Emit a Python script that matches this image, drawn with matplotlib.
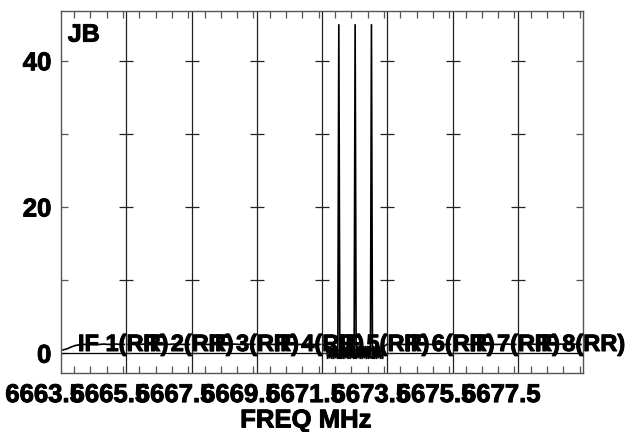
import numpy as np
import matplotlib
matplotlib.use("Agg")
import matplotlib.pyplot as plt
import matplotlib.patheffects as pe

plt.rcParams['font.family'] = ['Liberation Sans', 'DejaVu Sans']
plt.rcParams['font.weight'] = 'bold'

# ---- data ----
source = "JB"
if_names = ["IF 1(RR)", "IF 2(RR)", "IF 3(RR)", "IF 4(RR)",
            "IF 5(RR)", "IF 6(RR)", "IF 7(RR)", "IF 8(RR)"]
if_start_mhz = [6664.0, 6666.0, 6668.0, 6670.0, 6672.0, 6674.0, 6676.0, 6678.0]
if_bandwidth_mhz = 2.0
freq_labels = [6663.5, 6665.5, 6667.5, 6669.5, 6671.5, 6673.5, 6675.5, 6677.5]

if1 = [0.45, 0.6, 0.85, 1.05, 1.15, 1.2, 1.2, 1.25, 1.2, 1.2, 1.25, 1.2, 1.2, 1.25, 1.2, 1.2]
if2 = [1.2, 1.25, 1.2, 1.2, 1.25, 1.2, 1.2, 1.2, 1.25, 1.2, 1.2, 1.25, 1.2, 1.2, 1.2, 1.2]
if3 = [1.2, 1.2, 1.25, 1.2, 1.2, 1.2, 1.25, 1.2, 1.2, 1.2, 1.25, 1.2, 1.2, 1.2, 1.25, 1.2]
if4 = [1.2, 1.25, 1.2, 1.2, 1.2, 1.25, 1.2, 1.2, 1.25, 1.2, 1.2, 1.2, 1.25, 1.2, 1.2, 1.2]
if5 = [1.2, 1.1, 1.0, 0.9,
       1.0, -0.8, 1.0, -0.7, 1.0, -0.8, 0.9, -0.8,
       1.0, -0.7, 1.0, -0.8, 45.0, -0.8, 1.0, -0.8,
       1.0, -0.8, 0.9, -0.7, 1.0, -0.8, 1.0, -0.8,
       1.0, -0.7, 1.0, -0.8, 45.0, -0.8, 1.0, -0.7,
       1.0, -0.8, 0.9, -0.8, 1.0, -0.7, 1.0, -0.8,
       1.0, -0.8, 1.0, -0.7, 45.0, -0.8, 1.0, -0.8,
       0.9, -0.8, 1.0, -0.7, 1.0, -0.8, 1.0, -0.8,
       0.9, 1.0, 1.1, 1.2]
if6 = [1.2, 1.2, 1.25, 1.2, 1.2, 1.25, 1.2, 1.2, 1.2, 1.25, 1.2, 1.2, 1.25, 1.2, 1.2, 1.2]
if7 = [1.2, 1.25, 1.2, 1.2, 1.2, 1.2, 1.25, 1.2, 1.2, 1.25, 1.2, 1.2, 1.2, 1.25, 1.2, 1.2]
if8 = [1.2, 1.2, 1.2, 1.25, 1.2, 1.2, 1.25, 1.2, 1.2, 1.2, 1.25, 1.2, 1.2, 1.2, 1.25, 1.2]
spectra = [if1, if2, if3, if4, if5, if6, if7, if8]

y_ticks = [0, 10, 20, 30, 40]
y_ticklabels = ["0", "", "20", "", "40"]

# ---- figure ----
W, H = 637, 432
fig = plt.figure(figsize=(W / 100, H / 100), dpi=100)
ax = fig.add_axes([61 / W, (H - 373.3) / H, 522 / W, 362.3 / H])

bold = [pe.withStroke(linewidth=0.7, foreground="black")]

frame_col = "#555555"
for sp in ax.spines.values():
    sp.set_color(frame_col)
    sp.set_linewidth(1.0)

x0 = if_start_mhz[0]
x1 = if_start_mhz[-1] + if_bandwidth_mhz
ax.set_xlim(x0, x1)
ax.set_ylim(-2.75, 46.8)

# spectra
for start, vals in zip(if_start_mhz, spectra):
    n = len(vals)
    f = start + (np.arange(n) + 0.5) * if_bandwidth_mhz / n
    ax.plot(f, vals, color="black", lw=1.2, solid_joinstyle="miter")

# zero line
ax.axhline(0, color="black", lw=0.9)

# IF boundaries with crossing ticks
for b in if_start_mhz[1:]:
    ax.axvline(b, color="#222222", lw=0.9)
    ax.plot([b] * len(y_ticks), y_ticks, ls="none", marker="_", ms=9.6,
            mew=0.9, color="#222222")

# IF labels
for start, name in zip(if_start_mhz, if_names):
    ax.text(start + 0.52, 0.3, name, ha="left", va="baseline",
            fontsize=17, fontweight="bold", clip_on=False, path_effects=bold)

# source label
ax.text(0.013, 0.968, source, transform=ax.transAxes, ha="left", va="top",
        fontsize=18, fontweight="bold", path_effects=bold)

# ticks
ax.set_yticks(y_ticks, labels=y_ticklabels)
ax.set_xticks(np.arange(x0 + 0.4, x1, 0.5))
ax.set_xticklabels([])
ax.tick_params(axis="both", which="both", direction="in", length=4.8,
               width=0.9, color=frame_col, top=True, right=True,
               labelsize=18.5, pad=7)
for lab in ax.get_yticklabels():
    lab.set_fontweight("bold")
    lab.set_path_effects(bold)

# frequency labels (one per IF, overlapping as in original)
xt = ax.get_xaxis_transform()
for v in freq_labels:
    ax.text(v, -0.027, f"{v:.1f}", transform=xt, ha="center", va="top",
            fontsize=18.5, fontweight="bold", clip_on=False, path_effects=bold)

ax.set_xlabel("FREQ MHz", fontsize=18.5, fontweight="bold", path_effects=bold)
ax.xaxis.set_label_coords((306 - 61) / 522, -0.097)

fig.savefig("out.png", dpi=100)
